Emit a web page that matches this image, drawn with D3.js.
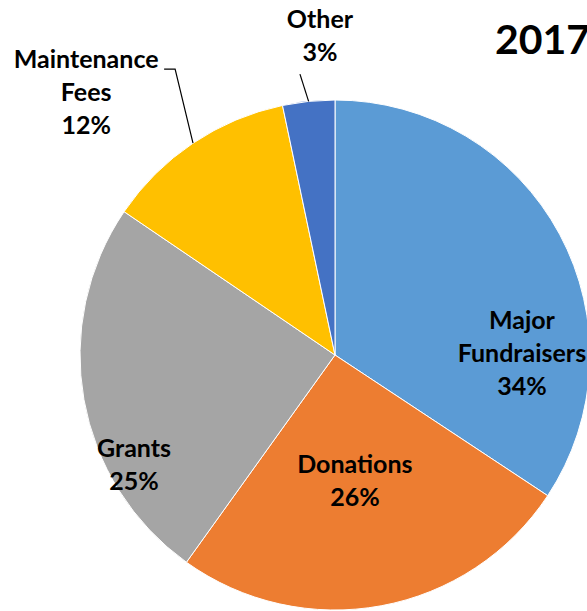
<!DOCTYPE html>
<html>
<head>
<meta charset="utf-8">
<script src="https://cdn.jsdelivr.net/npm/d3@7"></script>
<style>
  html, body { margin: 0; padding: 0; background: #fff; overflow: hidden; }
  svg { display: block; }
  text { font-family: Lato, "Noto Sans", sans-serif; font-weight: bold; fill: #000; }
</style>
</head>
<body>
<svg id="chart" width="587" height="611"></svg>
<script>
// ---- data ----
const title = "2017";
const categories = ["Major Fundraisers", "Donations", "Grants", "Maintenance Fees", "Other"];
const labelLines = [["Major", "Fundraisers"], ["Donations"], ["Grants"], ["Maintenance", "Fees"], ["Other"]];
const values = [34.3, 25.6, 24.6, 12.2, 3.3];
const colors = ["#5B9BD5", "#ED7D31", "#A5A5A5", "#FFC000", "#4472C4"];

// ---- layout (relative to pie centre, in units of radius) ----
const labelAnchor = [[0.733, -0.102], [0.078, 0.463], [-0.788, 0.400], [-0.976, -1.125], [-0.059, -1.282]];

const W = 587, H = 611;
const cx = 335, cy = 355, R = 255;
const lineH = 33;
const fontSize = 25;

const svg = d3.select("#chart");
const g = svg.append("g").attr("transform", `translate(${cx},${cy})`);

const pie = d3.pie().sort(null).value(d => d)(values);
const arc = d3.arc().innerRadius(0).outerRadius(R);
const total = d3.sum(values);

g.selectAll("path.slice")
  .data(pie)
  .join("path")
  .attr("class", "slice")
  .attr("d", arc)
  .attr("fill", (d, i) => colors[i])
  .attr("stroke", "#fff")
  .attr("stroke-width", 1);

const pointOnEdge = d => {
  const a = (d.startAngle + d.endAngle) / 2;
  return [R * Math.sin(a), -R * Math.cos(a)];
};

// Maintenance leader
{
  const i = 3;
  const p = pointOnEdge(pie[i]);
  const ax = labelAnchor[i][0] * R, ay = labelAnchor[i][1] * R;
  const pts = [[ax + 78, ay + 1], [ax + 89, ay + 1], p];
  g.append("path").attr("d", d3.line()(pts)).attr("fill", "none").attr("stroke", "#000").attr("stroke-width", 1.2);
}
// Other leader
{
  const i = 4;
  const p = pointOnEdge(pie[i]);
  const ax = labelAnchor[i][0] * R, ay = labelAnchor[i][1] * R;
  const pts = [[ax - 20, ay + 2 * lineH - 20], p];
  g.append("path").attr("d", d3.line()(pts)).attr("fill", "none").attr("stroke", "#000").attr("stroke-width", 1.2);
}

// labels
pie.forEach((d, i) => {
  const lines = labelLines[i].concat([Math.round(values[i] / total * 100) + "%"]);
  const t = g.append("text")
    .attr("text-anchor", "middle")
    .attr("font-size", fontSize);
  lines.forEach((ln, k) => {
    t.append("tspan")
      .attr("x", labelAnchor[i][0] * R)
      .attr("y", labelAnchor[i][1] * R + k * lineH)
      .text(ln);
  });
});

// title
svg.append("text")
  .attr("x", 495)
  .attr("y", 54)
  .attr("font-size", 41)
  .text(title);
</script>
</body>
</html>
